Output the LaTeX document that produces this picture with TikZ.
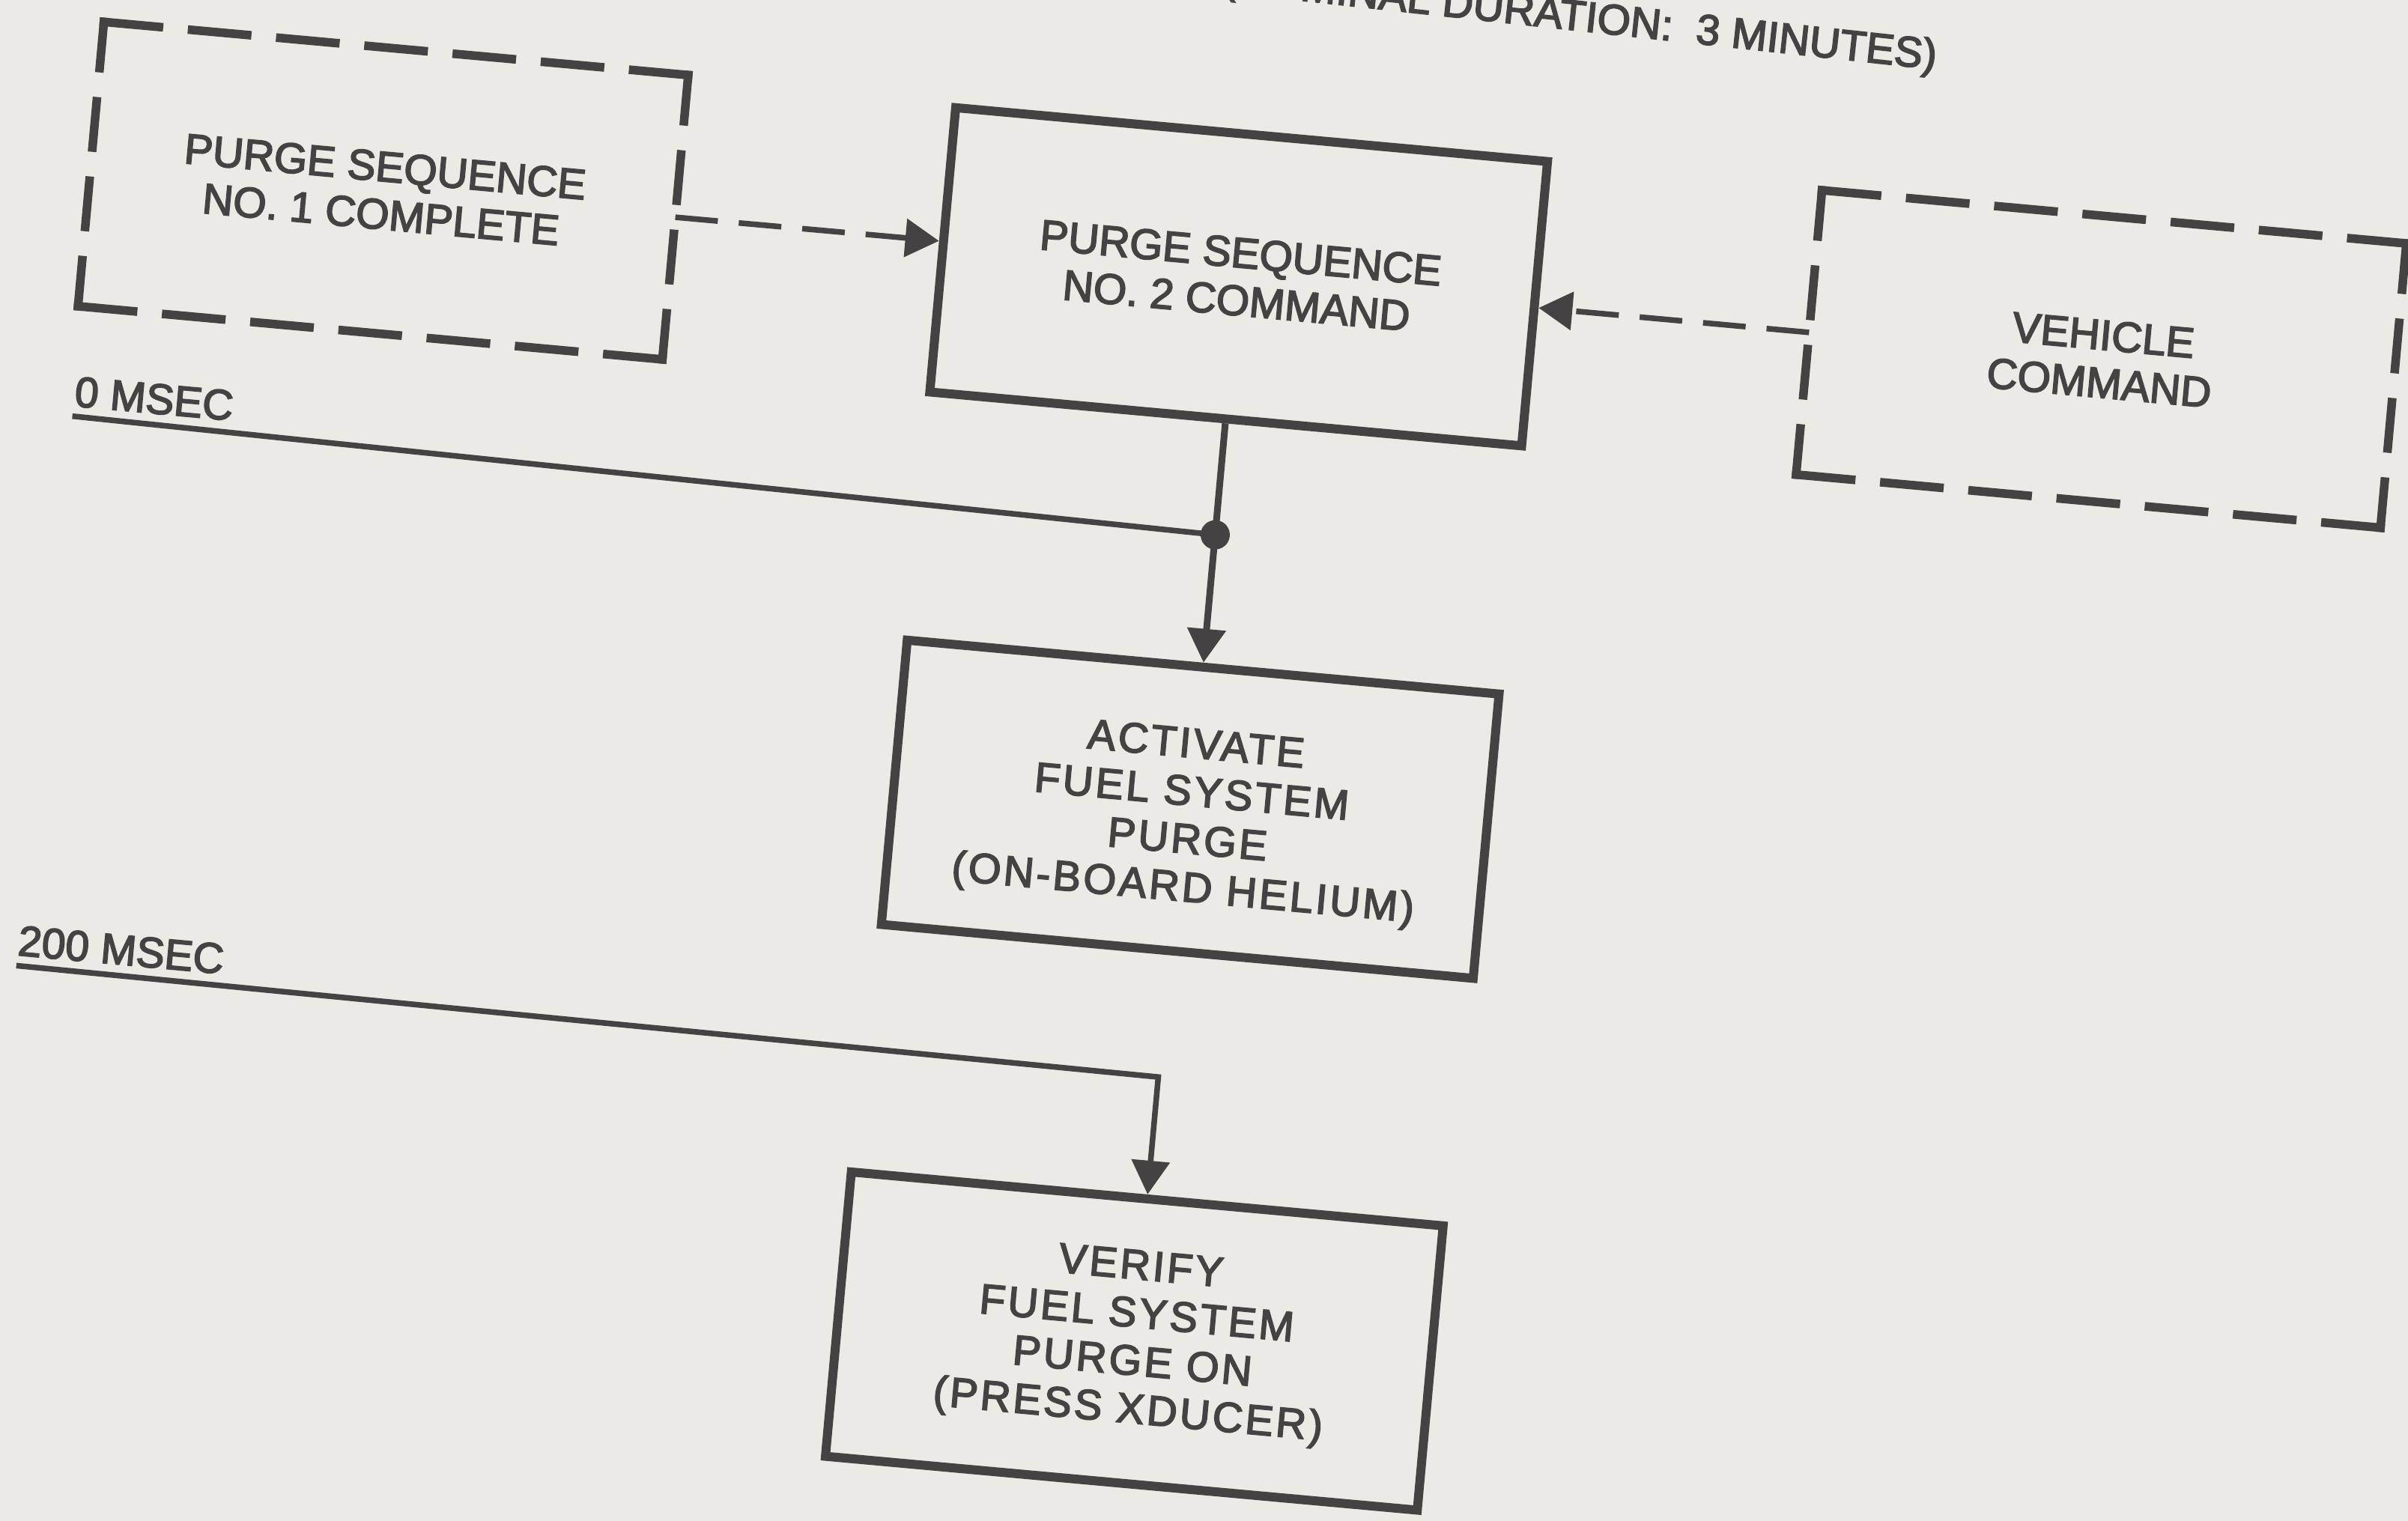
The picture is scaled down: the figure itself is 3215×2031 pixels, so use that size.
\documentclass[tikz,border=0pt]{standalone}
\usepackage{fontspec}
\setmainfont{Liberation Sans}[RawFeature={embolden=3}]
\newfontfamily\widefont{Liberation Sans}[RawFeature={embolden=3}, LetterSpace=6]
\usetikzlibrary{arrows.meta,calc}
\definecolor{ink}{RGB}{68,66,66}
\definecolor{paper}{RGB}{236,234,228}

% dashed outline drawn side by side, so every corner gets an L-shaped dash
\newcommand\dashframe[1]{%
  \draw[hdash] (#1.north west) -- (#1.north east);
  \draw[hdash] (#1.south west) -- (#1.south east);
  \draw[vdash] (#1.north west) -- (#1.south west);
  \draw[vdash] (#1.north east) -- (#1.south east);}

\begin{document}
\begin{tikzpicture}[x=0.01cm, y=-0.01cm,
  every node/.style={text=ink, font=\fontsize{16.2}{18.2}\selectfont},
  solidbox/.style={draw=ink, line width=0.12cm, minimum width=7.93cm,
    minimum height=3.81cm, align=center, inner sep=0pt},
  widetext/.style={font=\widefont\fontsize{16}{18.2}\selectfont},
  dashbox/.style={minimum width=7.83cm, minimum height=3.81cm,
    align=center, outer sep=0pt, inner sep=0pt},
  hdash/.style={draw=ink, line width=0.115cm, line cap=rect,
    dash pattern=on 0.737cm off 0.445cm},
  vdash/.style={draw=ink, line width=0.115cm, line cap=rect,
    dash pattern=on 0.619cm off 0.445cm},
  flow/.style={draw=ink, line width=0.09cm},
  timeline/.style={draw=ink, line width=0.075cm},
  dashflow/.style={draw=ink, line width=0.075cm, dash pattern=on 0.57cm off 0.28cm},
  arrowtip/.style={-{Triangle[length=0.45cm,width=0.5cm]}},
  junction/.style={circle, fill=ink, inner sep=0pt, minimum size=0.39cm},
  msec/.style={anchor=base west, inner sep=0pt}
]
\useasboundingbox (0,0) rectangle (3215,2031);
\fill[paper] (0,0) rectangle (3215,2031);
\clip (0,0) rectangle (3215,2031);

\begin{scope}[rotate around={-5.2:(1607.5,1016)}, transform shape]
  % heading (runs off the top edge)
  \node[anchor=base east, rotate=-1, inner sep=0pt] (title) at (2497,8)
    {(NOMINAL DURATION:\ \ 3 MINUTES)};

  % blocks
  \node[dashbox]  (b1) at (447,357)   {PURGE SEQUENCE\\NO. 1 COMPLETE};
  \node[solidbox] (b2) at (1595,368)  {PURGE SEQUENCE\\NO. 2 COMMAND};
  \node[dashbox]  (b3) at (2752,373)  {VEHICLE\\COMMAND};
  % the strut on the first line sets the text a little lower in the box
  \node[solidbox, widetext] (b4) at (1595,1082)
    {\rule{0pt}{0.66cm}ACTIVATE\\FUEL SYSTEM\\PURGE\\(ON-BOARD HELIUM)};
  \node[solidbox, widetext] (b5) at (1585,1796)
    {VERIFY\\FUEL SYSTEM\\PURGE ON\\(PRESS XDUCER)};
  \dashframe{b1}
  \dashframe{b3}

  % dashed inputs to the sequence command
  \draw[dashflow, arrowtip] (b1.east) -- ($(b2.north west)!0.471!(b2.south west)$);
  \draw[dashflow, arrowtip] (b3.west) -- ($(b2.north east)!0.513!(b2.south east)$);

  % 0 msec
  \node[junction] (J) at (1595,714) {};
  \coordinate (t0) at (61,694.5);
  \node[msec] (l0) at (61,681) {0 MSEC};
  \draw[timeline] (t0) -- (J.center);
  \draw[flow] (b2.south) -- (J.center);
  \draw[flow, arrowtip] (J.center) -- (b4.north);

  % 200 msec
  \coordinate (t200) at (53,1432);
  \coordinate (k200) at (1585,1442);
  \node[msec] (l200) at (52,1418) {200 MSEC};
  \draw[timeline, arrowtip] (t200) -- (k200) -- (b5.north);
\end{scope}
\end{tikzpicture}
\end{document}
